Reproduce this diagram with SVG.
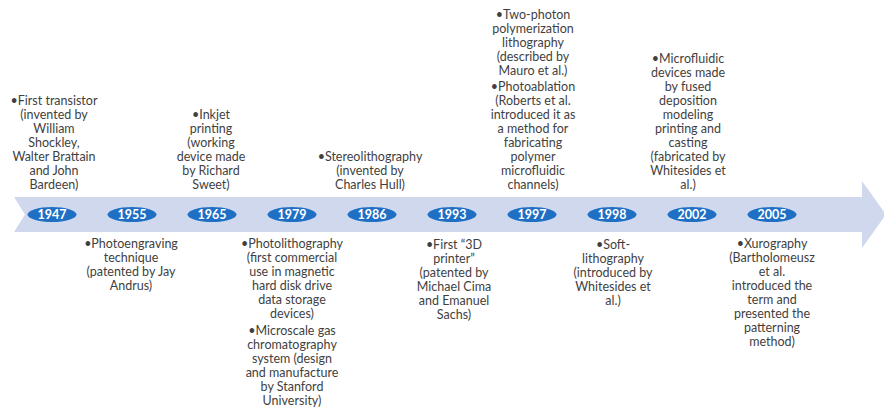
<svg xmlns="http://www.w3.org/2000/svg" width="884" height="407" viewBox="0 0 884 407">
<style>
.bg{fill:#ffffff}
.band{fill:#cfd8ec}
.yr{fill:#1f6fc5}
.yt{font-family:Lato,"Liberation Sans",sans-serif;font-weight:bold;font-size:12.5px;fill:#ffffff;text-anchor:middle}
.d{font-family:Lato,"Liberation Sans",sans-serif;font-size:12.5px;fill:#3f3f3f;text-anchor:middle}
</style>
<rect class="bg" x="0" y="0" width="884" height="407"/>
<g id="timeline-arrow">
<polygon class="band" points="14,197 862,197 862,181 886,214.5 862,248 862,232 14,232 25,214.5"/>
</g>
<g id="connectors"></g>
<g id="e1947">
<ellipse class="yr" cx="52" cy="214.5" rx="24.5" ry="7.5"/>
<text class="yt" x="52" y="219">1947</text>
<text class="d"><tspan x="54" y="104.5">•First transistor</tspan><tspan x="54" y="118.5">(invented by</tspan><tspan x="54" y="132.5">William</tspan><tspan x="54" y="146.5">Shockley,</tspan><tspan x="54" y="160.5">Walter Brattain</tspan><tspan x="54" y="174.5">and John</tspan><tspan x="54" y="188.5">Bardeen)</tspan></text>
</g>
<g id="e1955">
<ellipse class="yr" cx="132" cy="214.5" rx="24.5" ry="7.5"/>
<text class="yt" x="132" y="219">1955</text>
<text class="d"><tspan x="131" y="248">•Photoengraving</tspan><tspan x="131" y="262">technique</tspan><tspan x="131" y="276">(patented by Jay</tspan><tspan x="131" y="290">Andrus)</tspan></text>
</g>
<g id="e1965">
<ellipse class="yr" cx="212" cy="214.5" rx="24.5" ry="7.5"/>
<text class="yt" x="212" y="219">1965</text>
<text class="d"><tspan x="211" y="118.5">•Inkjet</tspan><tspan x="211" y="132.5">printing</tspan><tspan x="211" y="146.5">(working</tspan><tspan x="211" y="160.5">device made</tspan><tspan x="211" y="174.5">by Richard</tspan><tspan x="211" y="188.5">Sweet)</tspan></text>
</g>
<g id="e1979">
<ellipse class="yr" cx="292" cy="214.5" rx="24.5" ry="7.5"/>
<text class="yt" x="292" y="219">1979</text>
<text class="d"><tspan x="292" y="248">•Photolithography</tspan><tspan x="292" y="262">(first commercial</tspan><tspan x="292" y="276">use in magnetic</tspan><tspan x="292" y="290">hard disk drive</tspan><tspan x="292" y="304">data storage</tspan><tspan x="292" y="318">devices)</tspan></text>
<text class="d"><tspan x="292" y="334.5">•Microscale gas</tspan><tspan x="292" y="348.5">chromatography</tspan><tspan x="292" y="362.5">system (design</tspan><tspan x="292" y="376.5">and manufacture</tspan><tspan x="292" y="390.5">by Stanford</tspan><tspan x="292" y="404.5">University)</tspan></text>
</g>
<g id="e1986">
<ellipse class="yr" cx="372" cy="214.5" rx="24.5" ry="7.5"/>
<text class="yt" x="372" y="219">1986</text>
<text class="d"><tspan x="370" y="160.5">•Stereolithography</tspan><tspan x="370" y="174.5">(invented by</tspan><tspan x="370" y="188.5">Charles Hull)</tspan></text>
</g>
<g id="e1993">
<ellipse class="yr" cx="452" cy="214.5" rx="24.5" ry="7.5"/>
<text class="yt" x="452" y="219">1993</text>
<text class="d"><tspan x="454" y="248.5">•First “3D</tspan><tspan x="454" y="262.5">printer”</tspan><tspan x="454" y="276.5">(patented by</tspan><tspan x="454" y="290.5">Michael Cima</tspan><tspan x="454" y="304.5">and Emanuel</tspan><tspan x="454" y="318.5">Sachs)</tspan></text>
</g>
<g id="e1997">
<ellipse class="yr" cx="532" cy="214.5" rx="24.5" ry="7.5"/>
<text class="yt" x="532" y="219">1997</text>
<text class="d"><tspan x="533" y="18.5">•Two-photon</tspan><tspan x="533" y="32.5">polymerization</tspan><tspan x="533" y="46.5">lithography</tspan><tspan x="533" y="60.5">(described by</tspan><tspan x="533" y="74.5">Mauro et al.)</tspan></text>
<text class="d"><tspan x="533" y="91">•Photoablation</tspan><tspan x="533" y="105">(Roberts et al.</tspan><tspan x="533" y="119">introduced it as</tspan><tspan x="533" y="133">a method for</tspan><tspan x="533" y="147">fabricating</tspan><tspan x="533" y="161">polymer</tspan><tspan x="533" y="175">microfluidic</tspan><tspan x="533" y="189">channels)</tspan></text>
</g>
<g id="e1998">
<ellipse class="yr" cx="612" cy="214.5" rx="24.5" ry="7.5"/>
<text class="yt" x="612" y="219">1998</text>
<text class="d"><tspan x="613" y="248.5">•Soft-</tspan><tspan x="613" y="262.5">lithography</tspan><tspan x="613" y="276.5">(introduced by</tspan><tspan x="613" y="290.5">Whitesides et</tspan><tspan x="613" y="304.5">al.)</tspan></text>
</g>
<g id="e2002">
<ellipse class="yr" cx="692" cy="214.5" rx="24.5" ry="7.5"/>
<text class="yt" x="692" y="219">2002</text>
<text class="d"><tspan x="688" y="62.5">•Microfluidic</tspan><tspan x="688" y="76.5">devices made</tspan><tspan x="688" y="90.5">by fused</tspan><tspan x="688" y="104.5">deposition</tspan><tspan x="688" y="118.5">modeling</tspan><tspan x="688" y="132.5">printing and</tspan><tspan x="688" y="146.5">casting</tspan><tspan x="688" y="160.5">(fabricated by</tspan><tspan x="688" y="174.5">Whitesides et</tspan><tspan x="688" y="188.5">al.)</tspan></text>
</g>
<g id="e2005">
<ellipse class="yr" cx="772" cy="214.5" rx="24.5" ry="7.5"/>
<text class="yt" x="772" y="219">2005</text>
<text class="d"><tspan x="772" y="248">•Xurography</tspan><tspan x="772" y="262">(Bartholomeusz</tspan><tspan x="772" y="276">et al.</tspan><tspan x="772" y="290">introduced the</tspan><tspan x="772" y="304">term and</tspan><tspan x="772" y="318">presented the</tspan><tspan x="772" y="332">patterning</tspan><tspan x="772" y="346">method)</tspan></text>
</g>
</svg>
